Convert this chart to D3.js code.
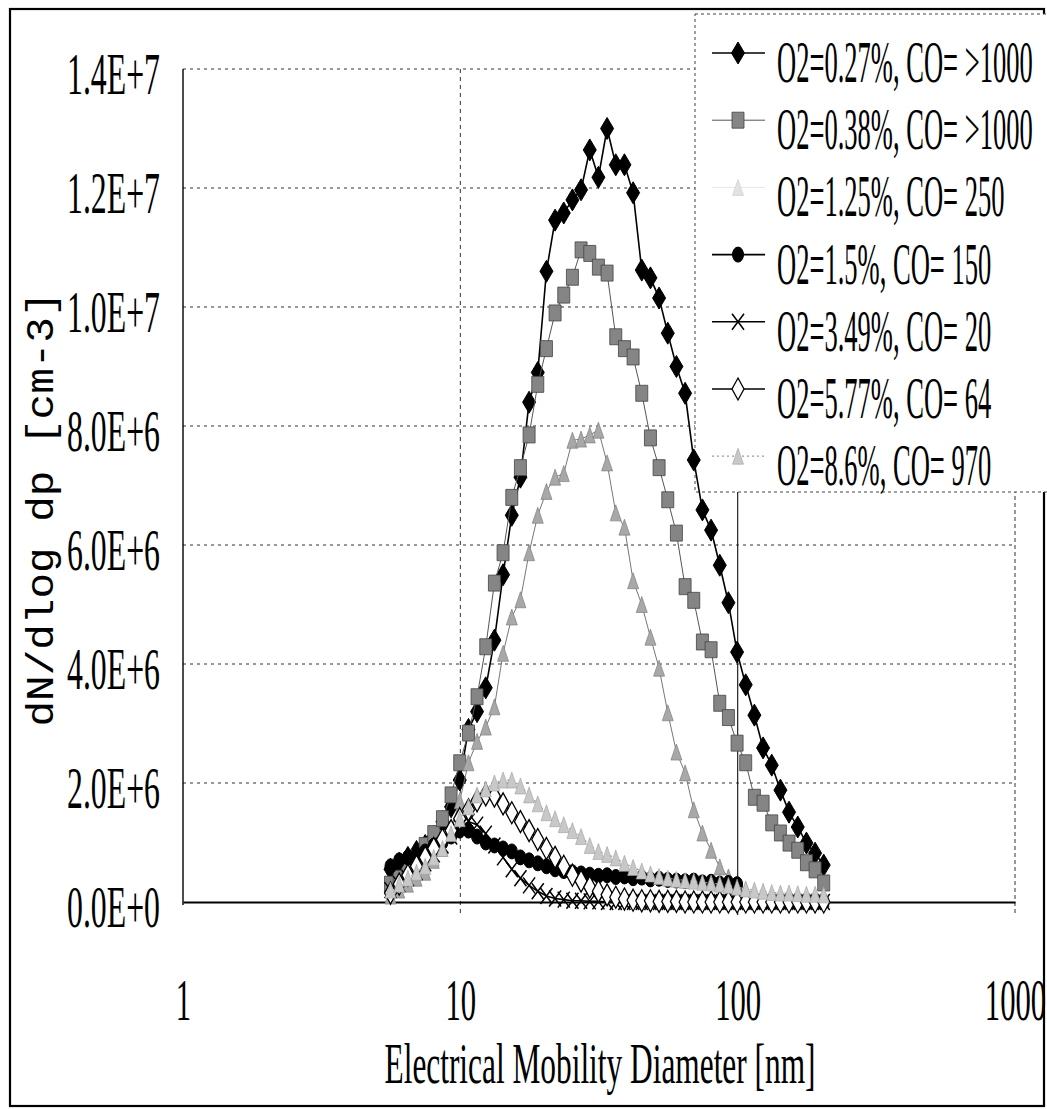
<!DOCTYPE html>
<html><head><meta charset="utf-8">
<script src="https://cdn.jsdelivr.net/npm/d3@7"></script>
<style>html,body{margin:0;padding:0;background:#fff;}svg{display:block;}</style>
</head><body>
<div id="chart"></div>
<script>
// ---- data (dN/dlog dp in units of 1E+6 cm-3) ----
const diam = [5.60,6.02,6.47,6.95,7.47,8.02,8.62,9.26,9.95,10.70,11.49,12.35,13.27,14.26,15.33,16.47,17.70,19.02,20.44,21.96,23.60,25.36,27.25,29.29,31.47,33.82,36.35,39.06,41.97,45.10,48.47,52.08,55.97,60.14,64.63,69.45,74.63,80.20,86.18,92.61,99.52,106.9,114.9,123.5,132.7,142.6,153.2,164.7,177.0,190.2,204.3];
const s027 = [0.55,0.65,0.75,0.85,0.95,1.1,1.35,1.6,2.05,2.9,3.2,3.6,4.4,5.5,6.5,7.14,8.4,8.9,10.6,11.46,11.58,11.8,11.97,12.64,12.18,13.0,12.39,12.39,11.92,10.62,10.49,10.15,9.56,9.0,8.55,7.43,6.59,6.25,5.66,5.03,4.2,3.65,3.14,2.59,2.3,1.88,1.51,1.26,0.99,0.82,0.62];
const s038 = [0.3,0.4,0.55,0.75,0.95,1.15,1.4,1.8,2.34,2.84,3.45,4.29,5.36,5.87,6.8,7.3,7.85,8.7,9.3,9.9,10.2,10.5,10.96,10.9,10.67,10.57,9.5,9.3,9.16,8.55,7.8,7.3,6.76,6.2,5.3,5.07,4.37,4.24,3.34,3.1,2.67,2.34,1.76,1.66,1.33,1.16,0.99,0.87,0.66,0.54,0.32];
const s125 = [0.1,0.2,0.3,0.4,0.5,0.7,0.9,1.2,1.7,2.34,2.7,2.94,3.28,4.18,4.79,5.08,5.87,6.5,6.9,7.14,7.2,7.76,7.78,7.85,7.93,7.38,6.54,6.3,5.4,5.0,4.45,3.93,3.18,2.52,2.17,1.55,1.16,0.87,0.59,0.42,0.3,0.2,0.15,0.12,0.1,0.1,0.08,0.08,0.06,0.05,0.05];
const s150 = [0.6,0.7,0.75,0.8,0.85,0.95,1.0,1.1,1.2,1.2,1.1,1.0,0.95,0.9,0.85,0.75,0.7,0.65,0.6,0.55,0.52,0.5,0.48,0.46,0.44,0.45,0.42,0.43,0.4,0.41,0.38,0.39,0.37,0.36,0.35,0.36,0.33,0.34,0.31,0.32,0.3,0.05,0.03,0.02,0.02,0.01,0.01,0.01,0,0,0];
const s349 = [0.2,0.3,0.4,0.5,0.65,0.8,0.95,1.1,1.25,1.35,1.3,1.15,0.95,0.75,0.55,0.4,0.28,0.18,0.1,0.06,0.04,0.02,0.02,0.01,0.01,0,0,0,0,0,0,0,0,0,0,0,0,0,0,0,0,0,0,0,0,0,0,0,0,0,0];
const s577 = [0.15,0.3,0.45,0.6,0.75,0.9,1.05,1.2,1.4,1.55,1.7,1.8,1.78,1.65,1.5,1.35,1.2,1.05,0.9,0.75,0.6,0.45,0.35,0.25,0.18,0.12,0.08,0.05,0.03,0.02,0.02,0.01,0.01,0.01,0,0,0,0,0,0,0,0,0,0,0,0,0,0,0,0,0];
const s860 = [0.2,0.3,0.4,0.5,0.6,0.75,0.9,1.15,1.4,1.6,1.8,1.9,2.0,2.05,2.05,1.95,1.8,1.65,1.5,1.4,1.3,1.2,1.1,0.95,0.85,0.8,0.74,0.65,0.58,0.52,0.47,0.43,0.4,0.38,0.36,0.35,0.33,0.32,0.3,0.28,0.25,0.22,0.2,0.18,0.16,0.15,0.15,0.14,0.13,0.13,0.12];
const seriesNames = ["O2=0.27%, CO= >1000","O2=0.38%, CO= >1000","O2=1.25%, CO= 250","O2=1.5%, CO= 150","O2=3.49%, CO= 20","O2=5.77%, CO= 64","O2=8.6%, CO= 970"];
const yTicks = [0,2,4,6,8,10,12,14];
const yTickLabels = ["0.0E+0","2.0E+6","4.0E+6","6.0E+6","8.0E+6","1.0E+7","1.2E+7","1.4E+7"];
const xTicks = [1,10,100,1000];
const xTickLabels = ["1","10","100","1000"];
const xTitle = "Electrical Mobility Diameter [nm]";
const yTitle = "dN/dlog dp [cm-3]";

// ---- styles ----
const seriesValues = [s027,s038,s125,s150,s349,s577,s860];
const styles = [
  {shape:"diamond", w:13, h:22, fill:"#000", stroke:"#000", sw:1, line:"#000", lw:1.6, dash:null},
  {shape:"square", w:12, h:16, fill:"#858585", stroke:"#444", sw:0.8, line:"#555", lw:1, dash:null},
  {shape:"triangle", w:11, h:16, fill:"#a8a8a8", stroke:"#808080", sw:0.7, line:"#777", lw:1, dash:null},
  {shape:"circle", w:11, h:15, fill:"#000", stroke:"#000", sw:1, line:"#000", lw:1.6, dash:null},
  {shape:"cross", w:12, h:16, fill:"none", stroke:"#000", sw:1.5, line:"#000", lw:1.6, dash:null},
  {shape:"diamond", w:12, h:22, fill:"#fff", stroke:"#000", sw:1.3, line:"#000", lw:1.6, dash:null},
  {shape:"triangle", w:11, h:16, fill:"#c8c8c8", stroke:"#a0a0a0", sw:0.6, line:"#999", lw:1.2, dash:"2,3"}
];
function shapePath(s){
  const w=s.w/2, h=s.h/2;
  switch(s.shape){
    case "diamond": return `M0,${-h}L${w},0L0,${h}L${-w},0Z`;
    case "square": return `M${-w},${-h}H${w}V${h}H${-w}Z`;
    case "triangle": return `M0,${-h}L${w},${h}L${-w},${h}Z`;
    case "circle": return `M${-w},0A${w},${h} 0 1,0 ${w},0A${w},${h} 0 1,0 ${-w},0Z`;
    case "cross": return `M${-w},${-h}L${w},${h}M${w},${-h}L${-w},${h}`;
  }
}

const W=1047, H=1109;
const svg = d3.select("#chart").append("svg").attr("width",W).attr("height",H);
svg.append("rect").attr("width",W).attr("height",H).attr("fill","#fff");

const x = d3.scaleLog().domain([1,1000]).range([183,1015]);
const y = d3.scaleLinear().domain([0,14]).range([902,69]);
const serif = '"Liberation Serif","Times New Roman",serif';

// outer frame
svg.append("rect").attr("x",10).attr("y",9).attr("width",1034).attr("height",1097)
  .attr("fill","none").attr("stroke","#000").attr("stroke-width",2.2);

// gridlines
const grid = svg.append("g");
grid.selectAll("line.h").data(yTicks.filter(d=>d>0)).join("line")
  .attr("x1",183).attr("x2",1015).attr("y1",d=>y(d)).attr("y2",d=>y(d))
  .attr("stroke","#333").attr("stroke-width",1).attr("stroke-dasharray","3,4");
grid.append("line").attr("x1",x(10)).attr("x2",x(10)).attr("y1",y(14)).attr("y2",915)
  .attr("stroke","#333").attr("stroke-width",1).attr("stroke-dasharray","4,4");
grid.append("line").attr("x1",x(100)).attr("x2",x(100)).attr("y1",y(14)).attr("y2",915)
  .attr("stroke","#222").attr("stroke-width",1.2);
grid.append("line").attr("x1",x(1000)).attr("x2",x(1000)).attr("y1",y(14)).attr("y2",915)
  .attr("stroke","#333").attr("stroke-width",1).attr("stroke-dasharray","4,3");
// frame left (solid)
svg.append("line").attr("x1",183).attr("x2",183).attr("y1",y(14)).attr("y2",905)
  .attr("stroke","#000").attr("stroke-width",1.4);

// legend box (covers grid)
svg.append("rect").attr("x",695).attr("y",14).attr("width",360).attr("height",478)
  .attr("fill","#fff").attr("stroke","#444").attr("stroke-width",1).attr("stroke-dasharray","3,3");

// axes
const yAxis = d3.axisLeft(y).tickValues(yTicks).tickFormat((d,i)=>yTickLabels[i]).tickSize(0);
const gy = svg.append("g").attr("transform","translate(183,0)").call(yAxis);
gy.select(".domain").remove();
gy.selectAll("text").attr("x",0).attr("dy",null)
  .attr("transform","translate(-23,24) scale(0.53,1)")
  .attr("text-anchor","end").attr("fill","#000")
  .style("font-family",serif).style("font-size","60px");

const xAxis = d3.axisBottom(x).tickValues(xTicks).tickFormat((d,i)=>xTickLabels[i]).tickSize(0);
const gx = svg.append("g").attr("transform","translate(0,902)").call(xAxis);
gx.select(".domain").attr("stroke","#000").attr("stroke-width",2.2);
gx.selectAll("text").attr("y",0).attr("dy",null)
  .attr("transform","translate(0,118) scale(0.52,1)")
  .attr("text-anchor","middle").attr("fill","#000")
  .style("font-family",serif).style("font-size","59px");

// axis titles
svg.append("text").attr("transform","translate(600,1083) scale(0.56,1)")
  .attr("text-anchor","middle").style("font-family",serif).style("font-size","56px").text(xTitle);
svg.append("text").attr("transform","translate(53,509) rotate(-90)")
  .attr("text-anchor","middle").attr("textLength",435).attr("lengthAdjust","spacingAndGlyphs")
  .style("font-family",'"Liberation Mono","Courier New",monospace').style("font-size","38px").text(yTitle);

// series
const line = d3.line().x((d,i)=>x(diam[i])).y(d=>y(d));
const plot = svg.append("g");
seriesValues.forEach((vals,si)=>{
  const st = styles[si];
  const g = plot.append("g");
  g.append("path").attr("d",line(vals)).attr("fill","none")
    .attr("stroke",st.line).attr("stroke-width",st.lw).attr("stroke-dasharray",st.dash);
  g.selectAll("path.m").data(vals).join("path").attr("class","m")
    .attr("transform",(d,i)=>`translate(${x(diam[i])},${y(d)})`)
    .attr("d",shapePath(st)).attr("fill",st.fill).attr("stroke",st.stroke).attr("stroke-width",st.sw);
});

// legend
const leg = svg.append("g");
seriesNames.forEach((name,i)=>{
  const top = 42 + 67.2*i;
  const st = styles[i];
  const my = top + 11;
  const faint = i===2;
  leg.append("line").attr("x1",712).attr("x2",765).attr("y1",my).attr("y2",my)
    .attr("stroke",faint?"#e6e6e6":st.line).attr("stroke-width",st.lw).attr("stroke-dasharray",st.dash);
  leg.append("path").attr("transform",`translate(738,${my})`).attr("d",shapePath(st))
    .attr("fill",faint?"#e2e2e2":st.fill).attr("stroke",faint?"#d0d0d0":st.stroke).attr("stroke-width",st.sw);
  leg.append("text").attr("transform",`translate(777,${top+40}) scale(0.45,1)`)
    .style("font-family",serif).style("font-size","59px").text(name);
});
</script>
</body></html>
